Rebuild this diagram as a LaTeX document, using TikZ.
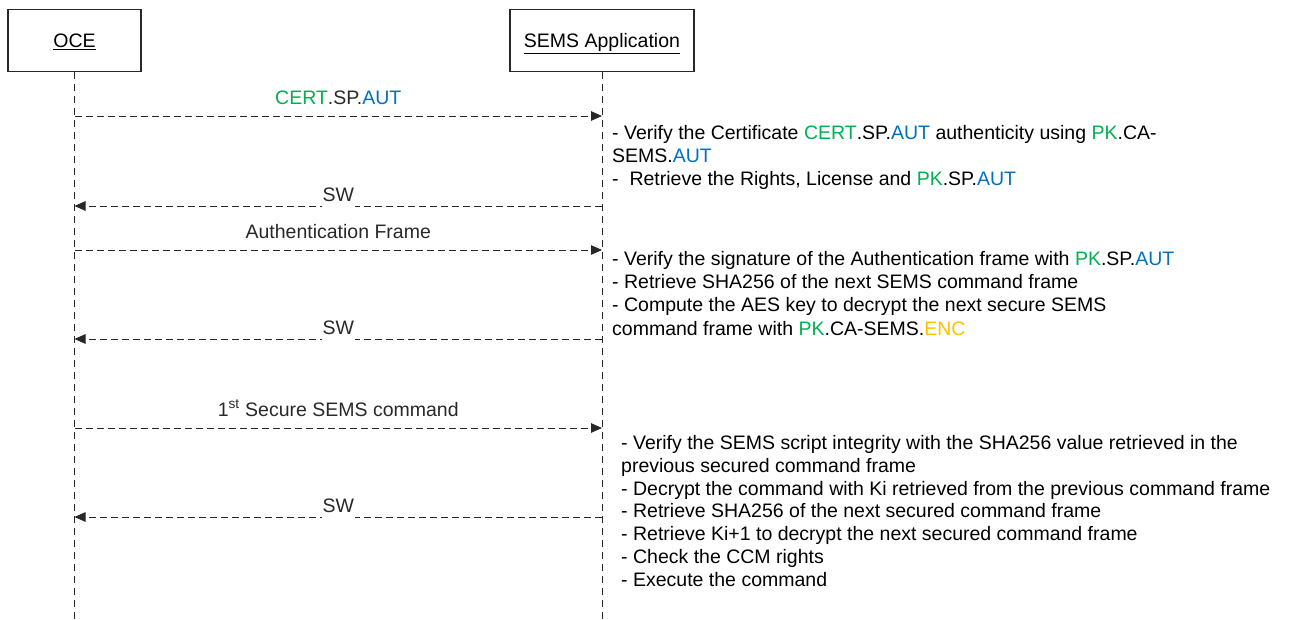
\documentclass[tikz,border=0pt]{standalone}
\usepackage{fontspec}
\setmainfont{Liberation Sans}
\usepackage{xcolor}
\usepackage{tikz}
\usetikzlibrary{arrows.meta, positioning}
\definecolor{certgreen}{RGB}{0, 176, 80}
\definecolor{autblue}{RGB}{0, 112, 192}
\definecolor{encgold}{RGB}{255, 192, 0}
\definecolor{linegray}{RGB}{40, 40, 40}
\newcommand{\gr}[1]{\textcolor{certgreen}{#1}}
\newcommand{\bl}[1]{\textcolor{autblue}{#1}}
\newcommand{\yl}[1]{\textcolor{encgold}{#1}}
\tikzstyle{actor} = [
    rectangle,
    minimum height=62pt,
    text height=20pt,
    text depth=6pt,
    draw=linegray,
    line width=1.2pt,
    fill=white
]
\tikzstyle{lifeline} = [
    linegray,
    line width=0.9pt,
    dash pattern=on 7pt off 5pt
]
\tikzstyle{message} = [
    linegray,
    line width=0.9pt,
    dash pattern=on 7pt off 4pt,
    -{Triangle[length=11pt, width=9.5pt]}
]
\tikzstyle{label} = [
    midway,
    above=8pt
]
\tikzstyle{swlabel} = [
    midway,
    above=-1pt,
    fill=white,
    inner xsep=1pt,
    inner ysep=5pt
]
\tikzstyle{note} = [
    anchor=base west,
    align=left,
    inner sep=0pt
]

\begin{document}
\begin{tikzpicture}[x=1pt, y=-1pt,
    font=\fontsize{19.5}{23}\selectfont]
        \useasboundingbox (0,0) rectangle (1293,619);

        % Actors
        \node[actor, minimum width=133pt] (oce) at (74.5,40.5) {\underline{OCE}};
        \node[actor, minimum width=184pt] (sems) at (602,40.5) {\underline{SEMS Application}};

        % Lifelines
        \coordinate (oceend) at (74.5,619);
        \coordinate (semsend) at (602,619);
        \draw[lifeline] (oce.south) -- (oceend);
        \draw[lifeline] (sems.south) -- (semsend);

        % Message points
        \foreach \y/\n in {116/1, 206/2, 250/3, 339/4, 428/5, 517/6} {
            \coordinate (o\n) at (74.5,\y);
            \coordinate (s\n) at (602,\y);
        }

        % Certificate (notes are placed by their last baseline)
        \draw[message] (o1) -- node[label]{\gr{CERT}.SP.\bl{AUT}} (s1);
        \node[note] (note1) at (612,185) {- Verify the Certificate \gr{CERT}.SP.\bl{AUT} authenticity using \gr{PK}.CA-\\
            SEMS.\bl{AUT}\\
            -\ \ Retrieve the Rights, License and \gr{PK}.SP.\bl{AUT}};
        \draw[message] (s2) -- node[swlabel]{SW} (o2);

        % Authentication frame
        \draw[message] (o3) -- node[label]{Authentication Frame} (s3);
        \node[note, font=\fontsize{19.5}{23.3}\selectfont] (note2) at (612,335) {- Verify the signature of the Authentication frame with \gr{PK}.SP.\bl{AUT}\\
            - Retrieve SHA256 of the next SEMS command frame\\
            - Compute the AES key to decrypt the next secure SEMS\\
            command frame with \gr{PK}.CA-SEMS.\yl{ENC}};
        \draw[message] (s4) -- node[swlabel]{SW} (o4);

        % Secure command
        \draw[message] (o5) -- node[label]{1\textsuperscript{st} Secure SEMS command} (s5);
        \node[note, font=\fontsize{19.5}{22.7}\selectfont] (note3) at (621,586) {- Verify the SEMS script integrity with the SHA256 value retrieved in the\\
            previous secured command frame\\
            - Decrypt the command with Ki retrieved from the previous command frame\\
            - Retrieve SHA256 of the next secured command frame\\
            - Retrieve Ki+1 to decrypt the next secured command frame\\
            - Check the CCM rights\\
            - Execute the command};
        \draw[message] (s6) -- node[swlabel]{SW} (o6);
    \end{tikzpicture}
\end{document}
